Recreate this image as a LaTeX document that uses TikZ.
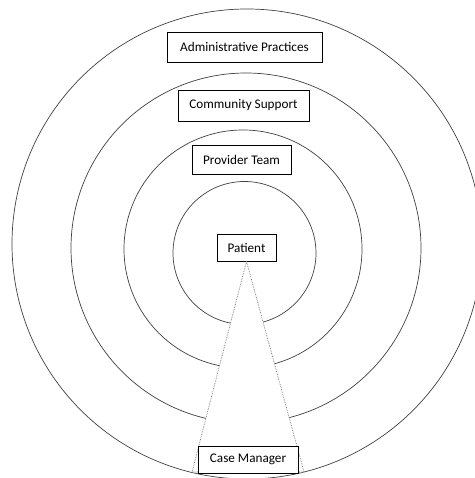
\documentclass[tikz,border=0pt]{standalone}
\usepackage{fontspec}
\setmainfont{Carlito}
\begin{document}
\begin{tikzpicture}[x=1pt,y=-1pt,
    ring/.style={draw=black!75,line width=0.7pt},
    label box/.style={draw,line width=0.7pt,fill=white,inner sep=0pt,font=\fontsize{13.2}{15}\selectfont}]
    \useasboundingbox (0,0) rectangle (474,478);
    % the four rings
    \draw[ring] (247,244) circle (235);
    \draw[ring] (246,248) circle (175);
    \draw[ring] (243,249) circle (119);
    \draw[ring] (244.5,253) circle (71.5);
    \node[label box,minimum width=155pt,minimum height=30pt] (admin) at (244.5,47) {Administrative Practices};
    \node[label box,minimum width=131pt,minimum height=31pt] (community) at (243.5,105.5) {Community Support};
    \node[label box,minimum width=99pt,minimum height=29pt] (provider) at (241.5,160) {Provider Team};
    \node[label box,minimum width=59pt,minimum height=27pt] (patient) at (246.5,247.5) {Patient};
    % wedge from the patient down to the case manager
    \coordinate (baseL) at (192,472);
    \coordinate (baseR) at (304,472);
    \filldraw[fill=white,draw=black!55,densely dotted,line width=0.7pt] (patient.south) -- (baseL) -- (baseR) -- cycle;
    \node[label box,minimum width=100pt,minimum height=27pt] (case) at (248,459.5) {Case Manager};
\end{tikzpicture}
\end{document}
